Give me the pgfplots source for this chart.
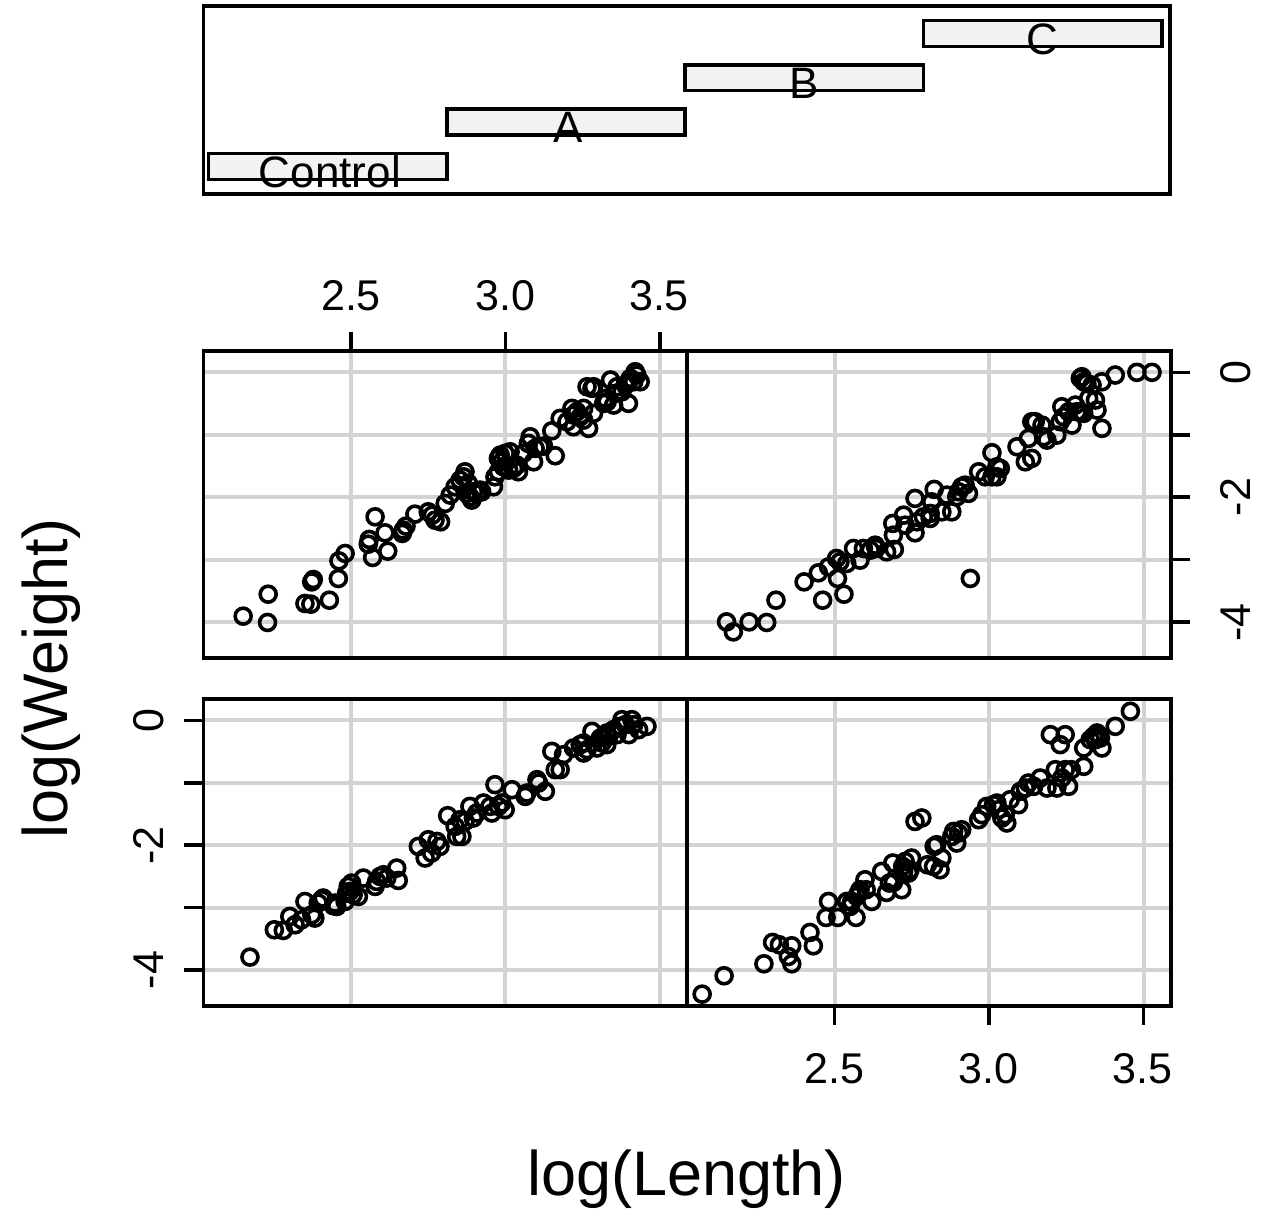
\documentclass[border=0pt]{standalone}
\usepackage{fontspec}
\setmainfont{Liberation Sans}
\usepackage{pgfplots}
\pgfplotsset{compat=1.18}
\definecolor{gridgray}{HTML}{D3D3D3}
\definecolor{barfill}{HTML}{F2F2F2}
\pgfplotsset{
  panel/.style={
    scale only axis, anchor=south west,
    width=241.85pt, height=153.5pt,
    xmin=2.022, xmax=3.5875, ymin=-4.575, ymax=0.342,
    xtick={2.5,3,3.5}, ytick={-4,-3,-2,-1,0},
    xticklabels={}, yticklabels={},
    grid=major, major grid style={color=gridgray, line width=2pt},
    axis line style={line width=1.8pt},
    tick align=outside, major tick length=9.5pt,
    xtick style={draw=none}, ytick style={draw=none},
    clip=false,
  },
  pts/.style={only marks, mark=o, black, mark options={line width=1.8pt, mark size=4pt}},
}
\newcommand{\tl}{\fontsize{21.5}{24}\selectfont}
\begin{document}
\begin{tikzpicture}
\path[use as bounding box] (0,0) rectangle (632.5pt,608pt);

% ---------- given panel ----------
\begin{axis}[scale only axis, anchor=south west, at={(101.65pt,511pt)},
  width=483.2pt, height=94pt, xmin=0.479, xmax=4.532, ymin=0.380, ymax=4.620,
  xtick=\empty, ytick=\empty, axis line style={line width=1.8pt}, clip=false]
\addplot[fill=barfill, draw=black, line width=1.8pt] coordinates {(0.5,0.71) (1.5,0.71) (1.5,1.29) (0.5,1.29)} -- cycle;
\addplot[fill=barfill, draw=black, line width=1.8pt] coordinates {(1.5,1.71) (2.5,1.71) (2.5,2.29) (1.5,2.29)} -- cycle;
\addplot[fill=barfill, draw=black, line width=1.8pt] coordinates {(2.5,2.71) (3.5,2.71) (3.5,3.29) (2.5,3.29)} -- cycle;
\addplot[fill=barfill, draw=black, line width=1.8pt] coordinates {(3.5,3.71) (4.5,3.71) (4.5,4.29) (3.5,4.29)} -- cycle;
\node[anchor=base, inner sep=0pt, font=\fontsize{22}{24}\selectfont] at (axis cs:1.01,0.53) {Control};
\node[anchor=base, inner sep=0pt, font=\fontsize{22}{24}\selectfont] at (axis cs:2.01,1.53) {A};
\node[anchor=base, inner sep=0pt, font=\fontsize{22}{24}\selectfont] at (axis cs:3.0,2.53) {B};
\node[anchor=base, inner sep=0pt, font=\fontsize{22}{24}\selectfont] at (axis cs:4.0,3.53) {C};
\end{axis}

% ---------- top-left: B ----------
\begin{axis}[panel, at={(101.65pt,279pt)}, xtick pos=right, xtick style={draw=black, line width=1.8pt}]
\addplot[pts] table {
x y
2.151 -3.905
2.232 -3.553
2.230 -4.006
2.351 -3.702
2.370 -3.713
2.430 -3.649
2.373 -3.356
2.378 -3.318
2.459 -3.302
2.461 -3.019
2.481 -2.901
2.559 -2.676
2.556 -2.752
2.578 -2.314
2.610 -2.570
2.570 -2.965
2.619 -2.864
2.666 -2.580
2.669 -2.527
2.678 -2.463
2.707 -2.271
2.750 -2.234
2.763 -2.287
2.772 -2.367
2.790 -2.394
2.805 -2.099
2.821 -1.966
2.837 -1.833
2.853 -1.726
2.869 -1.593
2.864 -1.673
2.880 -1.779
2.885 -1.993
2.891 -2.046
2.907 -1.939
2.918 -1.886
2.875 -1.939
2.896 -1.913
2.923 -1.913
2.961 -1.833
2.966 -1.673
2.977 -1.593
2.983 -1.325
2.999 -1.298
3.015 -1.272
2.993 -1.513
3.010 -1.566
3.026 -1.539
3.042 -1.593
2.988 -1.433
3.037 -1.486
2.977 -1.378
3.058 -1.298
3.074 -1.138
3.080 -1.032
3.096 -1.218
3.112 -1.192
3.091 -1.433
3.123 -1.181
3.150 -0.936
3.161 -1.336
3.177 -0.737
3.199 -0.791
3.215 -0.577
3.220 -0.872
3.231 -0.631
3.242 -0.711
3.253 -0.577
3.220 -0.684
3.253 -0.764
3.269 -0.897
3.285 -0.657
3.280 -0.256
3.285 -0.231
3.264 -0.231
3.318 -0.497
3.329 -0.471
3.323 -0.417
3.340 -0.123
3.350 -0.524
3.361 -0.231
3.355 -0.337
3.377 -0.311
3.388 -0.204
3.398 -0.497
3.398 -0.151
3.404 -0.096
3.420 0.010
3.425 -0.043
3.436 -0.151
3.415 -0.151
};
\end{axis}

% ---------- top-right: C ----------
\begin{axis}[panel, at={(343.5pt,279pt)}, ytick pos=right, ytick style={draw=black, line width=1.8pt}]
\addplot[pts] table {
x y
2.150 -3.997
2.172 -4.157
2.223 -3.997
2.280 -4.006
2.310 -3.649
2.401 -3.356
2.447 -3.211
2.461 -3.649
2.480 -3.115
2.506 -2.981
2.509 -3.301
2.517 -3.035
2.530 -3.553
2.539 -3.061
2.561 -2.821
2.582 -3.008
2.593 -2.821
2.615 -2.848
2.631 -2.768
2.634 -2.821
2.668 -2.875
2.688 -2.420
2.690 -2.607
2.693 -2.837
2.723 -2.287
2.728 -2.447
2.760 -2.019
2.760 -2.570
2.766 -2.394
2.787 -2.314
2.809 -2.260
2.822 -1.875
2.814 -2.074
2.809 -2.340
2.847 -2.234
2.863 -1.966
2.879 -2.234
2.895 -1.993
2.901 -1.913
2.911 -1.833
2.922 -1.806
2.933 -1.939
2.939 -3.301
2.966 -1.593
2.987 -1.673
3.009 -1.673
3.009 -1.288
3.025 -1.673
3.025 -1.513
3.036 -1.539
3.090 -1.192
3.117 -1.433
3.127 -1.058
3.138 -1.378
3.138 -0.791
3.149 -0.791
3.171 -0.845
3.176 -1.032
3.187 -1.085
3.219 -1.005
3.230 -0.791
3.235 -0.551
3.241 -0.711
3.257 -0.631
3.268 -0.845
3.279 -0.524
3.284 -0.631
3.295 -0.631
3.306 -0.657
3.322 -0.417
3.295 -0.096
3.300 -0.070
3.306 -0.151
3.316 -0.176
3.333 -0.204
3.344 -0.444
3.349 -0.604
3.365 -0.897
3.365 -0.151
3.408 -0.043
3.478 0.000
3.527 0.000
};
\end{axis}

% ---------- bottom-left: Control ----------
\begin{axis}[panel, at={(101.65pt,105pt)}, ytick pos=left, ytick style={draw=black, line width=1.8pt}]
\addplot[pts] table {
x y
2.173 -3.792
2.252 -3.354
2.281 -3.365
2.302 -3.141
2.319 -3.274
2.340 -3.194
2.351 -2.901
2.373 -3.114
2.383 -3.167
2.394 -2.926
2.405 -2.873
2.410 -2.846
2.443 -2.970
2.448 -2.926
2.454 -2.981
2.481 -2.901
2.486 -2.766
2.491 -2.660
2.497 -2.740
2.502 -2.606
2.507 -2.793
2.524 -2.821
2.540 -2.526
2.578 -2.660
2.583 -2.580
2.594 -2.500
2.605 -2.473
2.616 -2.526
2.648 -2.366
2.653 -2.564
2.718 -2.019
2.740 -2.205
2.750 -1.912
2.761 -2.125
2.778 -1.939
2.788 -2.019
2.813 -1.527
2.837 -1.699
2.842 -1.859
2.859 -1.859
2.853 -1.591
2.869 -1.619
2.885 -1.378
2.896 -1.564
2.907 -1.484
2.929 -1.324
2.950 -1.378
2.956 -1.484
2.966 -1.030
2.977 -1.378
2.988 -1.324
2.999 -1.431
3.021 -1.111
3.064 -1.218
3.069 -1.164
3.102 -0.950
3.107 -1.004
3.129 -1.137
3.150 -0.497
3.161 -0.790
3.177 -0.790
3.188 -0.550
3.220 -0.443
3.242 -0.389
3.253 -0.523
3.253 -0.363
3.264 -0.470
3.280 -0.176
3.296 -0.443
3.307 -0.283
3.312 -0.363
3.317 -0.256
3.328 -0.389
3.328 -0.202
3.334 -0.256
3.350 -0.149
3.361 -0.229
3.371 -0.096
3.377 0.011
3.388 -0.069
3.399 -0.229
3.409 0.011
3.415 -0.069
3.431 -0.149
3.458 -0.096
};
\end{axis}

% ---------- bottom-right: A ----------
\begin{axis}[panel, at={(343.5pt,105pt)}, xtick pos=left, xtick style={draw=black, line width=1.8pt}]
\addplot[pts] table {
x y
2.071 -4.385
2.142 -4.091
2.271 -3.899
2.299 -3.557
2.321 -3.595
2.350 -3.782
2.361 -3.611
2.361 -3.899
2.420 -3.397
2.431 -3.611
2.472 -3.157
2.480 -2.901
2.510 -3.157
2.539 -2.901
2.550 -2.981
2.555 -2.901
2.569 -3.157
2.571 -2.821
2.577 -2.766
2.582 -2.713
2.598 -2.553
2.602 -2.713
2.620 -2.901
2.652 -2.420
2.668 -2.756
2.677 -2.606
2.688 -2.285
2.690 -2.596
2.717 -2.713
2.720 -2.340
2.723 -2.420
2.728 -2.260
2.739 -2.446
2.744 -2.393
2.749 -2.205
2.760 -1.619
2.782 -1.564
2.800 -2.313
2.822 -2.019
2.820 -2.340
2.830 -1.992
2.841 -2.393
2.847 -2.205
2.879 -1.859
2.885 -1.779
2.895 -1.965
2.901 -1.805
2.911 -1.752
2.966 -1.591
2.976 -1.511
2.992 -1.378
3.014 -1.351
3.025 -1.324
3.030 -1.431
3.041 -1.564
3.052 -1.511
3.057 -1.644
3.068 -1.271
3.095 -1.351
3.101 -1.138
3.117 -1.084
3.127 -1.004
3.144 -1.057
3.165 -0.924
3.187 -1.084
3.214 -0.790
3.219 -1.084
3.235 -0.924
3.246 -0.790
3.257 -1.057
3.266 -0.790
3.306 -0.737
3.198 -0.229
3.230 -0.389
3.246 -0.229
3.306 -0.443
3.327 -0.309
3.338 -0.256
3.344 -0.309
3.349 -0.202
3.354 -0.229
3.360 -0.283
3.365 -0.443
3.408 -0.096
3.457 0.145
};
\end{axis}

% ---------- tick labels ----------
\node[anchor=base, inner sep=0pt, font=\tl] at (175.5pt,452.65pt) {2.5};
\node[anchor=base, inner sep=0pt, font=\tl] at (252.85pt,452.65pt) {3.0};
\node[anchor=base, inner sep=0pt, font=\tl] at (329.5pt,452.65pt) {3.5};
\node[anchor=base, inner sep=0pt, font=\tl] at (417.15pt,66.25pt) {2.5};
\node[anchor=base, inner sep=0pt, font=\tl] at (494.15pt,66.25pt) {3.0};
\node[anchor=base, inner sep=0pt, font=\tl] at (571.15pt,66.25pt) {3.5};
\node[anchor=base, inner sep=0pt, rotate=90, font=\tl] at (81.5pt,247.65pt) {0};
\node[anchor=base, inner sep=0pt, rotate=90, font=\tl] at (81.5pt,185.35pt) {-2};
\node[anchor=base, inner sep=0pt, rotate=90, font=\tl] at (81.5pt,123pt) {-4};
\node[anchor=base, inner sep=0pt, rotate=90, font=\tl] at (625pt,421.85pt) {0};
\node[anchor=base, inner sep=0pt, rotate=90, font=\tl] at (625pt,359.45pt) {-2};
\node[anchor=base, inner sep=0pt, rotate=90, font=\tl] at (625pt,296.85pt) {-4};

% ---------- axis titles ----------
\node[anchor=base, inner sep=0pt, font=\fontsize{31.5}{34}\selectfont] at (343.25pt,10pt) {log(Length)};
\node[anchor=base, inner sep=0pt, rotate=90, font=\fontsize{31.5}{34}\selectfont] at (33.5pt,268.75pt) {log(Weight)};
\end{tikzpicture}
\end{document}
